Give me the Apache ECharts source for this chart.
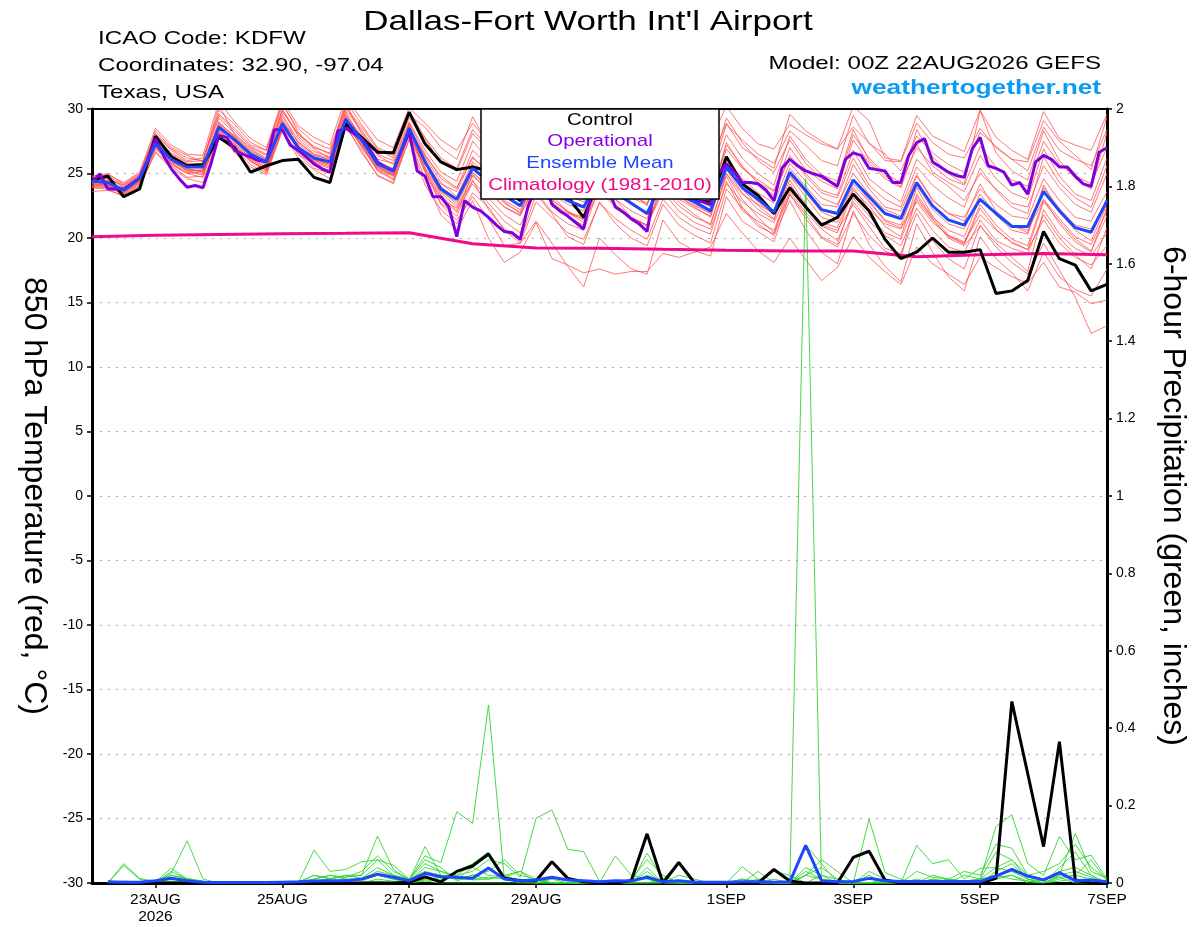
<!DOCTYPE html>
<html><head><meta charset="utf-8">
<script src="https://cdn.jsdelivr.net/npm/echarts@6/dist/echarts.min.js"></script>
<style>html,body{margin:0;padding:0;background:#fff}#chart{width:1200px;height:927px}</style>
</head><body><div id="chart"></div>
<script>
// ---------- x positions (forecast hours from 00Z 22AUG2026) ----------
const hours6 = Array.from({length: 65}, (_, i) => i * 6);
const hours3 = Array.from({length: 129}, (_, j) => j * 3);
const hours24 = Array.from({length: 17}, (_, d) => d * 24);
const precipHours = hours6.slice(1);

// ---------- x tick labels ----------
const tickHours = [24, 72, 120, 168, 240, 288, 336, 384];
const tickLabels = ['23AUG\n2026', '25AUG', '27AUG', '29AUG', '1SEP', '3SEP', '5SEP', '7SEP'];

// ---------- 850 hPa temperature (°C) ----------
const controlTemp = [24.5,24.8,23.2,23.8, 27.9,26.3,25.6,25.7, 27.8,27.0,25.1,25.6, 26.0,26.1,24.7,24.3, 28.85,27.8,26.65,26.6, 29.75,27.3,25.9,25.3, 25.5,25.2,24.0,22.9, 25.0,24.0,23.2,21.6, 24.6,24.0,23.4,23.2, 24.5,23.6,22.9,22.8, 26.3,24.2,23.3,21.9, 23.9,22.4,21.0,21.6, 23.4,22.1,19.9,18.4, 18.9,20.0,18.9,18.9, 19.1,15.7,15.9,16.7, 20.5,18.4,17.9,15.9, 16.4];
const meanTemp = [24.4,24.3,23.7,24.6, 27.3,26.1,25.5,25.5, 28.6,27.6,26.5,25.9, 28.85,27.0,26.2,25.9, 29.2,27.6,25.75,25.2, 28.5,25.9,23.8,23.0, 25.4,24.4,23.3,22.5, 24.8,23.6,22.9,22.4, 24.6,23.5,22.7,21.9, 24.5,23.3,22.8,22.1, 25.5,23.9,23.0,22.0, 25.1,23.7,22.2,21.9, 24.5,23.2,21.9,21.5, 24.3,22.5,21.4,21.0, 23.0,21.9,20.9,20.9, 23.6,22.1,20.8,20.45, 22.9];
const operationalTemp = [24.33,24.97,23.8,23.8,23.8,24.2,24.66,26.0, 27.7,26.4,25.36,24.6,23.94,24.07,23.9,25.75, 27.95,27.8,26.8,26.5,26.27,26.0,25.93,28.4, 28.4,27.2,26.8,26.3,25.75,25.36,25.1,28.3, 28.5,28.1,27.7,26.9,25.9,25.5,25.2,26.8, 28.2,25.2,24.8,23.2,23.2,22.4,20.1,22.9, 22.4,22.1,21.6,21.0,20.5,20.4,19.9,22.5, 24.0,24.5,22.6,22.1,21.7,21.2,20.7,23.5, 24.5,24.0,22.4,22.0,21.5,21.1,20.5,24.0, 25.0,24.5,24.0,23.5,22.9,22.8,22.6,25.0, 25.75,25.1,24.3,24.3,24.2,23.7,22.9,25.4, 26.1,25.6,25.2,24.97,24.8,24.4,24.0,26.1, 26.6,26.4,25.4,25.3,25.2,24.3,24.3,26.4, 27.4,27.7,25.9,25.5,25.1,24.85,24.7,26.9, 27.8,25.6,25.4,25.1,24.1,24.3,23.4,25.9, 26.4,26.1,25.5,25.5,24.8,24.2,24.0,26.65, 27.0];
const climatologyTemp = [20.1,20.22,20.28,20.33,20.36,20.4,19.55,19.22,19.2,19.12,19.05,19.0,19.0,18.55,18.7,18.8,18.7];

const member01 = [24.8,25.0,24.2,25.0, 28.0,26.8,26.0,26.2, 29.6,28.5,27.2,26.8, 30.5,28.2,27.0,26.6, 30.6,28.8,27.0,26.5, 29.8,27.8,26.2,25.4, 28.4,27.0,25.8,25.0, 28.8,27.5,26.3,25.6, 29.6,28.0,27.1,26.4, 29.2,27.8,26.8,26.0, 28.9,27.0,26.2,25.4, 29.6,28.3,27.5,26.9, 30.2,29.1,26.2,26.0, 29.5,27.9,27.3,26.7, 29.9,27.8,26.8,26.1, 29.8,27.7,27.2,26.8, 29.6];
const member02 = [24.6,24.7,23.9,24.8, 28.3,27.0,26.4,25.9, 30.3,28.0,27.0,26.4, 29.8,28.1,26.9,26.2, 30.4,28.2,26.8,26.4, 29.5,28.6,27.0,26.1, 29.4,27.2,25.7,24.9, 27.4,26.1,24.9,24.6, 27.8,26.6,25.2,24.6, 27.6,26.0,25.3,24.8, 28.8,27.6,26.5,25.8, 28.3,27.2,26.0,25.6, 29.5,27.3,26.5,25.2, 27.9,26.6,25.7,25.1, 28.2,27.1,26.1,25.2, 28.6,26.8,26.1,25.6, 28.4];
const member03 = [24.2,24.1,23.5,24.3, 27.0,26.0,25.2,25.3, 28.8,27.9,26.6,25.6, 29.2,27.4,26.5,26.0, 29.6,27.9,26.1,25.8, 28.0,25.7,24.2,23.6, 26.3,25.0,24.0,23.1, 25.9,24.6,23.5,23.0, 25.8,24.3,23.6,22.5, 26.0,24.7,23.5,22.9, 27.4,25.5,24.3,23.6, 26.2,25.0,23.7,23.3, 26.8,24.6,23.6,22.8, 26.1,24.9,24.0,22.9, 25.0,23.8,22.7,22.4, 25.6,23.9,22.6,22.0, 25.0];
const member04 = [24.0,24.2,23.4,24.1, 26.9,25.8,25.1,24.9, 28.1,27.0,26.0,25.1, 28.4,26.5,25.7,25.2, 28.7,27.2,25.2,24.5, 27.6,24.1,22.2,21.1, 23.5,22.4,20.6,19.6, 22.8,21.6,20.4,19.9, 22.7,21.5,20.6,19.9, 23.0,21.6,20.8,20.3, 24.4,22.1,21.3,20.6, 23.6,22.0,20.7,19.8, 22.8,21.3,20.2,19.4, 22.3,20.6,19.3,18.9, 21.4,19.8,19.2,18.8, 21.8,20.0,18.7,17.6, 20.8];
const member05 = [24.3,24.5,23.6,24.4, 27.5,26.3,25.6,25.6, 28.3,27.3,26.2,25.4, 28.5,26.9,25.9,25.5, 28.9,27.1,25.4,24.9, 27.9,25.1,22.6,21.4, 23.2,21.5,19.4,19.6, 21.3,19.6,17.8,16.2, 20.0,18.7,17.6,17.2, 21.4,19.7,19.0,18.6, 23.2,21.3,20.5,19.7, 23.4,21.8,20.1,19.5, 23.1,21.7,20.4,19.9, 23.0,21.4,20.1,19.6, 22.6,21.0,19.9,19.4, 23.0,21.1,19.7,18.9, 22.4];
const member06 = [24.5,24.4,23.8,24.7, 27.6,26.4,25.7,25.4, 29.0,27.8,26.7,26.1, 29.4,27.7,26.5,26.2, 29.8,27.5,25.9,25.1, 28.3,25.8,23.5,22.4, 24.8,23.7,22.4,21.8, 24.1,22.7,21.9,21.5, 24.0,22.6,21.6,21.0, 23.6,22.1,21.2,20.7, 24.2,22.8,21.9,21.2, 23.9,22.4,21.0,20.6, 22.6,20.9,19.2,18.8, 21.9,19.8,18.4,17.6, 21.0,19.3,18.1,17.2, 19.6,17.5,15.4,12.6, 13.2];
const member07 = [23.9,23.8,23.2,24.0, 26.6,25.4,24.6,24.3, 28.0,26.6,25.5,24.9, 28.3,26.2,25.3,24.6, 28.6,26.8,24.8,24.3, 28.1,25.5,23.1,22.0, 24.9,23.6,22.4,21.7, 24.3,22.9,22.1,21.4, 24.9,23.7,22.6,21.8, 24.6,23.2,22.4,21.6, 25.9,23.8,22.5,21.5, 24.5,22.6,20.9,20.4, 23.7,22.5,20.9,20.1, 23.9,21.7,20.2,19.5, 22.3,20.7,19.6,19.1, 22.8,21.3,19.9,19.0, 21.7];
const member08 = [24.7,24.6,24.0,24.8, 27.8,26.6,25.9,26.0, 29.9,28.8,27.4,26.8, 30.3,28.5,27.4,26.9, 30.1,28.6,26.9,26.2, 29.3,27.7,25.8,25.2, 28.1,26.8,25.9,25.4, 29.4,28.2,27.6,27.9, 30.4,28.9,27.8,27.3, 29.0,28.6,28.2,27.6, 30.2,28.5,27.3,26.9, 28.8,28.0,27.3,26.9, 28.6,27.4,26.0,25.9, 28.9,27.4,26.5,26.2, 28.5,27.0,26.1,25.9, 29.1,27.5,26.4,25.3, 29.4];
const member09 = [24.1,24.0,23.6,24.5, 27.2,25.9,25.3,25.2, 28.5,27.5,26.4,25.8, 28.6,27.0,26.0,25.7, 29.0,27.4,25.5,24.8, 28.6,26.3,24.3,23.2, 25.9,24.8,23.6,22.8, 25.2,23.8,23.0,22.5, 24.9,23.9,22.8,21.8, 24.5,23.2,22.5,21.9, 25.0,23.4,22.6,21.9, 25.4,24.0,22.6,22.4, 25.7,23.8,22.4,22.1, 24.9,23.0,21.9,21.6, 23.8,22.6,21.7,21.5, 24.6,22.9,21.6,21.3, 23.6];
const member10 = [24.4,24.6,24.1,24.9, 27.9,26.5,25.8,25.7, 29.3,28.1,26.9,26.2, 29.9,27.9,26.7,26.3, 30.2,28.1,26.4,25.7, 28.9,26.5,24.6,23.8, 26.8,25.6,24.4,23.6, 26.4,25.2,24.3,23.9, 26.6,25.3,24.0,23.2, 26.5,24.9,24.1,23.4, 26.9,25.4,24.5,23.7, 27.0,25.3,24.4,23.8, 27.6,25.8,24.6,23.9, 27.3,25.1,24.3,23.6, 26.4,24.6,23.5,23.0, 26.9,24.8,23.4,22.9, 26.2];
const member11 = [24.6,24.3,23.7,24.6, 27.4,26.2,25.4,25.1, 28.4,27.2,26.1,25.3, 28.9,26.8,25.8,25.4, 29.3,27.0,25.3,24.6, 28.2,25.2,23.0,22.3, 24.4,23.1,21.8,21.0, 23.6,22.0,21.1,20.6, 23.9,22.5,21.6,20.9, 24.2,22.8,21.8,21.0, 25.0,23.0,21.6,20.4, 23.4,21.5,20.0,19.3, 21.9,20.2,19.0,18.4, 23.4,21.6,20.6,20.1, 23.1,21.8,21.0,20.4, 24.1,22.0,20.6,19.8, 22.6];
const member12 = [23.6,23.7,23.3,24.0, 26.7,25.6,24.7,24.8, 28.2,26.9,25.7,25.0, 28.7,27.2,26.0,25.6, 29.4,27.6,25.6,24.9, 28.7,26.1,24.0,23.0, 25.7,24.2,22.8,21.9, 24.6,23.3,22.0,21.2, 23.7,22.4,21.4,20.6, 24.9,23.5,22.6,22.0, 26.1,24.6,23.5,22.7, 25.8,24.4,23.1,22.6, 25.0,23.4,22.2,21.7, 24.8,22.9,21.9,21.3, 24.2,22.1,21.0,20.6, 23.0,21.5,20.1,19.5, 22.1];
const member13 = [24.3,24.2,23.9,24.6, 27.3,26.0,25.5,25.6, 28.9,27.9,26.8,26.1, 29.6,27.3,26.3,25.9, 29.5,27.8,25.9,25.4, 28.4,26.0,23.7,22.6, 25.1,24.0,22.7,22.0, 24.7,23.4,22.6,22.1, 25.4,24.4,23.3,22.7, 25.3,23.9,23.1,22.4, 25.6,24.0,22.8,21.8, 24.8,23.2,21.6,21.2, 24.2,22.8,21.3,20.8, 23.2,21.5,20.0,19.4, 20.9,19.6,18.5,17.4, 22.2,20.3,19.2,18.6, 20.4];
const member14 = [24.0,23.9,23.4,24.2, 27.1,25.7,25.0,25.2, 28.7,27.8,26.3,25.7, 29.1,27.1,26.1,25.8, 29.0,27.3,25.5,25.0, 28.8,25.9,23.3,22.1, 24.2,22.7,21.3,20.4, 23.9,22.8,21.6,21.0, 24.3,23.0,22.1,21.5, 24.8,23.0,22.3,21.7, 25.3,23.5,22.2,21.4, 24.9,23.5,22.0,21.5, 24.5,22.9,21.4,21.0, 24.1,22.2,21.1,20.7, 23.4,21.8,20.6,20.3, 23.9,22.3,21.0,20.7, 23.0];
const member15 = [24.4,24.1,23.5,24.3, 27.2,26.1,25.2,25.0, 28.6,27.4,26.3,25.5, 28.8,27.0,26.1,25.7, 29.1,27.4,25.6,25.0, 28.0,25.4,23.6,22.8, 25.0,23.9,22.9,22.2, 24.5,23.0,22.0,21.6, 24.2,23.0,21.6,21.0, 23.9,22.5,21.6,21.1, 24.8,22.4,21.1,20.2, 22.9,20.6,18.9,18.0, 22.1,19.5,17.8,16.6, 21.1,18.9,17.0,15.9, 20.1,18.4,17.3,15.9, 18.9,17.0,16.0,15.5, 17.6];
const member16 = [24.2,24.4,23.8,24.5, 27.1,25.9,25.3,25.2, 28.2,27.2,26.0,25.2, 28.4,26.5,25.4,25.0, 28.8,26.6,24.9,24.2, 27.7,24.6,21.8,20.6, 22.9,20.0,18.1,18.9, 21.2,18.4,17.9,17.3, 17.6,17.2,17.4,17.4, 18.8,18.5,18.9,19.3, 21.9,20.4,19.0,18.1, 20.0,18.3,16.7,17.7, 20.1,18.5,17.4,16.4, 19.3,18.0,17.2,16.4, 18.5,17.7,17.0,16.5, 18.1,16.2,15.8,14.9, 15.2];
const member17 = [24.8,24.9,24.3,25.1, 28.5,27.2,26.5,26.4, 30.6,29.0,27.7,27.0, 30.7,28.7,27.8,27.2, 30.9,29.2,27.6,27.0, 30.1,28.9,27.6,26.8, 28.9,27.4,26.6,25.8, 27.8,26.5,25.6,25.0, 28.6,27.1,26.1,25.3, 28.1,26.6,25.7,25.1, 29.3,27.4,26.0,25.1, 27.6,25.8,24.6,24.2, 28.0,26.2,25.0,24.3, 27.0,25.6,24.6,24.1, 27.1,25.5,24.5,24.0, 27.5,25.7,24.8,24.2, 27.0];
const member18 = [23.9,24.0,23.5,24.4, 27.0,25.8,25.0,24.7, 28.5,27.1,25.9,25.3, 29.0,26.8,25.6,25.1, 29.1,27.2,25.3,24.8, 28.3,25.3,22.7,21.7, 24.5,22.2,20.7,19.8, 23.4,21.9,20.1,19.5, 22.8,21.1,20.0,19.4, 22.6,21.0,20.2,19.6, 23.8,22.3,20.9,20.3, 24.2,22.4,21.2,20.8, 23.9,22.2,21.1,20.7, 22.8,21.2,20.2,19.7, 21.8,20.6,19.7,19.1, 21.4,19.6,18.5,17.9, 19.4];
const member19 = [24.5,24.8,24.1,24.9, 28.1,26.9,26.2,26.0, 29.5,28.3,27.1,26.5, 30.0,28.0,27.1,26.5, 29.9,28.4,26.5,26.0, 29.0,26.8,25.1,24.4, 27.5,26.1,24.9,24.1, 27.0,25.8,24.6,24.0, 27.2,25.8,24.8,24.1, 27.6,25.9,25.0,24.5, 28.0,26.2,25.0,24.1, 27.9,26.1,24.9,24.4, 28.4,26.0,24.8,24.0, 28.4,26.3,25.0,24.2, 29.9,26.6,25.2,24.5, 28.3,26.0,24.6,23.8, 28.2];
const member20 = [24.2,24.0,23.8,24.7, 27.4,26.3,25.6,25.5, 28.7,27.5,26.5,25.8, 29.0,27.5,26.4,26.1, 29.3,27.7,25.8,25.3, 28.5,26.4,24.8,23.9, 26.2,25.2,24.1,23.4, 25.6,24.1,23.3,22.8, 25.2,24.0,23.1,22.6, 25.9,24.1,23.4,23.1, 27.2,25.6,24.2,23.3, 26.4,24.8,23.5,23.1, 26.2,24.1,23.0,22.4, 25.5,24.1,23.1,22.4, 25.4,23.7,22.4,21.9, 26.3,24.3,23.1,22.4, 25.6];

// ---------- 6-hour precipitation (inches), from hour 6 to 384 ----------
const controlPrecip = [0,0,0,0,0,0,0,0, 0,0,0,0,0,0,0,0, 0,0,0,0.002,0.016,0.003,0.03,0.044, 0.075,0.012,0.006,0.006,0.055,0.012,0.003,0, 0,0.006,0.127,0,0.053,0,0,0, 0,0,0.035,0.005,0,0,0,0.066, 0.082,0.008,0,0,0,0,0,0, 0.012,0.469,0.283,0.094,0.365,0.008,0,0];
const meanPrecip = [0.003,0.002,0.002,0.006,0.012,0.006,0.002,0.001, 0.001,0.001,0.001,0.002,0.003,0.005,0.006,0.006, 0.01,0.023,0.015,0.006,0.025,0.016,0.015,0.012, 0.039,0.01,0.006,0.008,0.015,0.008,0.006,0.003, 0.006,0.005,0.015,0.003,0.006,0.002,0.002,0.002, 0.003,0.003,0.002,0.003,0.097,0.006,0.003,0.004, 0.012,0.006,0.004,0.004,0.004,0.004,0.004,0.004, 0.018,0.035,0.018,0.008,0.027,0.006,0.008,0.003];
const precip01 = [0,.05,.012,.004,.025,.109,.01,0, 0,0,0,0,.003,.02,.012,.015, .02,.121,.035,.008,.094,.02,.015,.008, .01,.02,.005,0,.012,.008,0,0, .07,.02,.01,0,0,0,0,0, .01,.005,0,0,0,.02,.01,0, .03,.01,0,0,.01,.005,0,.01, .04,.06,.02,.01,.02,.128,.03,.012];
const precip02 = [0,.045,.01,0,.03,.01,0,0, 0,0,0,0,0,.085,.03,.035, .055,.06,.046,.01,.07,.053,.184,.154, .46,.01,.003,0,0,0,0,0, 0,0,.077,.01,0,0,0,0, 0,0,0,0,.02,.06,.03,0, 0,0,0,0,0,0,0,0, .03,.05,.01,0,.02,.03,.015,0];
const precip03 = [0,.005,.002,.005,.02,.012,.005,0, 0,0,0,.002,.002,.01,.02,.015, .03,.07,.03,.01,.05,.03,.02,.03, .06,.05,.015,.167,.189,.087,.081,.005, 0,0,0,.01,.05,0,0,0, .01,0,.03,.02,0,0,0,0, .165,.027,.01,0,.02,.01,.005,.01, .146,.176,.05,.02,.12,.06,.072,.01];
const precip04 = [0,.002,0,.003,.038,.01,0,0, 0,0,.003,0,0,.005,.01,.02, .02,.06,.02,.005,.04,.03,.01,.02, .03,.06,.02,.01,0,0,0,0, 0,0,.04,0,0,0,0,0, .042,.01,0,0,.098,.05,0,0, 0,.01,0,.097,.05,.06,.01,.038, .04,.03,.02,.01,.015,.02,.01,0];
const precip05 = [0,0,0,0,.015,.005,0,0, 0,0,0,0,0,.02,.01,.02, .012,.04,.02,.01,.06,.04,.005,.02, .01,.02,.03,0,.01,0,0,0, 0,0,.03,0,.05,0,0,0, 0,0,0,0,1.82,0,0,0, 0,0,0,0,.01,0,.02,.01, .02,.03,.01,0,.015,0,0,0];
const precip06 = [0,0,0,.002,.02,.01,0,0, 0,0,.002,0,0,.01,.02,.01, .01,.03,.02,.01,.03,.02,.01,.04, .02,.015,.03,.01,0,0,0,0, 0,.01,.06,.02,0,0,0,0, 0,.01,0,0,.04,.02,0,0, .02,0,0,.03,.015,.01,.03,.02, .1,.09,.02,.03,.05,.1,.04,.01];
const precip07 = [0,0,0,0,.01,.005,0,0, 0,0,0,0,0,0,.005,.01, .005,.02,.01,0,.01,.015,.01,.01, .015,.01,.01,0,0,0,0,0, 0,0,.02,.005,0,0,0,0, 0,.03,0,0,.02,.04,.01,0, 0,0,0,.005,0,.01,.005,.01, .08,.06,.01,.005,.03,.04,.02,0];
const precip08 = [0,0,.003,0,.005,.003,.003,0, 0,0,0,0,0,.003,.005,.008, .01,.02,.01,.005,.012,.01,.02,.05, .08,.01,.005,.01,0,0,0,0, 0,0,0,0,.02,.01,0,0, 0,0,0,0,.03,.01,0,0, 0,.005,0,.01,0,.01,0,0, .015,.02,.005,0,.01,.02,.06,.005];
const precip09 = [0,0,0,0,0,0,0,0, 0,0,0,0,0,0,0,0, 0,.01,.005,0,.008,.005,.03,.05, .07,.01,0,0,0,0,0,0, 0,0,0,0,0,0,0,0, 0,0,.01,0,.02,.01,0,0, 0,0,0,0,0,0,0,0, .02,.01,.005,0,.04,.08,.02,0];
const precip10 = [0,0,0,0,.003,0,0,0, 0,0,0,0,0,0,0,0, 0,.005,0,0,.005,0,0,0, 0,0,0,0,0,0,0,0, 0,0,0,0,0,0,0,0, 0,0,0,0,0,0,0,0, 0,0,0,0,0,0,0,0, .01,.02,0,0,.005,.01,0,0];

const tempMembers = [member01,member02,member03,member04,member05,member06,member07,member08,member09,member10,member11,member12,member13,member14,member15,member16,member17,member18,member19,member20];
const precipMembers = [precip01,precip02,precip03,precip04,precip05,precip06,precip07,precip08,precip09,precip10];

// ---------- chart ----------
const FONT = '"Liberation Sans", Arial, Helvetica, sans-serif';
const pairs = (xs, ys) => ys.map((v, i) => [xs[i], v]);
const chart = echarts.init(document.getElementById('chart'), null, {renderer: 'canvas'});

const series = [];
tempMembers.forEach((m, k) => series.push({
  name: 'member' + (k + 1), type: 'line', yAxisIndex: 0, data: pairs(hours6, m),
  symbol: 'none', silent: true, z: 2,
  lineStyle: {color: '#ff4a4a', width: 1, opacity: 0.75}
}));
precipMembers.forEach((m, k) => series.push({
  name: 'precip' + (k + 1), type: 'line', yAxisIndex: 1, data: pairs(precipHours, m),
  symbol: 'none', silent: true, z: 2,
  lineStyle: {color: '#33d633', width: 1, opacity: 0.9}
}));
series.push({name: 'Climatology (1981-2010)', type: 'line', yAxisIndex: 0, data: pairs(hours24, climatologyTemp),
  symbol: 'none', z: 3, lineStyle: {color: '#ee0a88', width: 3}});
series.push({name: 'Control precip', type: 'line', yAxisIndex: 1, data: pairs(precipHours, controlPrecip),
  symbol: 'none', z: 4, lineStyle: {color: '#000', width: 3}});
series.push({name: 'Ensemble Mean precip', type: 'line', yAxisIndex: 1, data: pairs(precipHours, meanPrecip),
  symbol: 'none', z: 5, lineStyle: {color: '#1e46ff', width: 3}});
series.push({name: 'Control', type: 'line', yAxisIndex: 0, data: pairs(hours6, controlTemp),
  symbol: 'none', z: 6, lineStyle: {color: '#000', width: 3}});
series.push({name: 'Operational', type: 'line', yAxisIndex: 0, data: pairs(hours3, operationalTemp),
  symbol: 'none', z: 7, lineStyle: {color: '#8000dd', width: 3}});
series.push({name: 'Ensemble Mean', type: 'line', yAxisIndex: 0, data: pairs(hours6, meanTemp),
  symbol: 'none', z: 8, lineStyle: {color: '#1e46ff', width: 3}});

function txt(text, x, y, size, opts) {
  opts = opts || {};
  return {
    type: 'text', x: x, y: y, scaleX: opts.scaleX || 1.25, z: opts.z || 100,
    style: {
      text: text, font: (opts.bold ? 'bold ' : '') + size + 'px ' + FONT,
      fill: opts.color || '#000',
      textAlign: opts.align || 'left', align: opts.align || 'left',
      textVerticalAlign: 'middle', verticalAlign: 'middle'
    }
  };
}

const option = {
  animation: false,
  backgroundColor: '#fff',
  grid: {left: 92, right: 93, top: 109, bottom: 44, show: true, borderColor: '#000', borderWidth: 2, backgroundColor: 'transparent'},
  xAxis: {
    type: 'value', min: 0, max: 384,
    axisLine: {show: true, onZero: false, lineStyle: {color: '#000', width: 3}},
    axisTick: {show: true, customValues: tickHours, length: 5, inside: false, lineStyle: {color: '#000', width: 1.5}},
    axisLabel: {customValues: tickHours, formatter: v => tickLabels[tickHours.indexOf(v)] || '',
      fontSize: 15.5, color: '#000', fontFamily: FONT, margin: 8, lineHeight: 17},
    splitLine: {show: false}
  },
  yAxis: [{
    type: 'value', min: -30, max: 30, interval: 5, position: 'left',
    name: '850 hPa Temperature (red, \u00B0C)', nameLocation: 'middle', nameRotate: -90, nameGap: 42,
    nameTextStyle: {fontSize: 32, color: '#000', fontFamily: FONT},
    axisLine: {show: true, onZero: false, lineStyle: {color: '#000', width: 3}},
    axisTick: {show: true, length: 5, lineStyle: {color: '#000', width: 1.5}},
    axisLabel: {fontSize: 14, color: '#000', fontFamily: FONT, margin: 9},
    splitLine: {show: true, showMinLine: false, showMaxLine: false, lineStyle: {color: '#aaaaaa', width: 1, type: [2, 6]}}
  }, {
    type: 'value', min: 0, max: 2, interval: 0.2, position: 'right',
    name: '6-hour Precipitation (green, inches)', nameLocation: 'middle', nameRotate: -90, nameGap: 50,
    nameTextStyle: {fontSize: 32, color: '#000', fontFamily: FONT},
    axisLine: {show: true, onZero: false, lineStyle: {color: '#000', width: 3}},
    axisTick: {show: true, length: 5, lineStyle: {color: '#000', width: 1.5}},
    axisLabel: {fontSize: 14, color: '#000', fontFamily: FONT, margin: 9},
    splitLine: {show: false}
  }],
  graphic: [
    {type: 'line', z: 99, shape: {x1: 92, y1: 109, x2: 1107, y2: 109}, style: {stroke: '#000', lineWidth: 2}},
    txt("Dallas-Fort Worth Int'l Airport", 588, 22, 28, {align: 'center', scaleX: 1.25}),
    txt('ICAO Code: KDFW', 98, 39, 19, {scaleX: 1.27}),
    txt('Coordinates: 32.90, -97.04', 98, 66, 19, {scaleX: 1.27}),
    txt('Texas, USA', 98, 92.6, 19, {scaleX: 1.27}),
    txt('Model: 00Z 22AUG2026 GEFS', 1101, 63.3, 19, {align: 'right', scaleX: 1.27}),
    txt('weathertogether.net', 1101, 88.6, 21, {align: 'right', scaleX: 1.25, bold: true, color: '#0a9bf5'}),
    {type: 'rect', z: 100, shape: {x: 481, y: 109, width: 238, height: 90},
     style: {fill: '#fff', stroke: '#000', lineWidth: 1.5}},
    txt('Control', 600, 120.7, 17, {align: 'center', scaleX: 1.2, z: 101}),
    txt('Operational', 600, 141.7, 17, {align: 'center', scaleX: 1.2, z: 101, color: '#8a00e6'}),
    txt('Ensemble Mean', 600, 163.3, 17, {align: 'center', scaleX: 1.2, z: 101, color: '#1e46ff'}),
    txt('Climatology (1981-2010)', 600, 185.7, 17, {align: 'center', scaleX: 1.2, z: 101, color: '#ee0a88'})
  ],
  series: series
};
chart.setOption(option);
</script></body></html>
